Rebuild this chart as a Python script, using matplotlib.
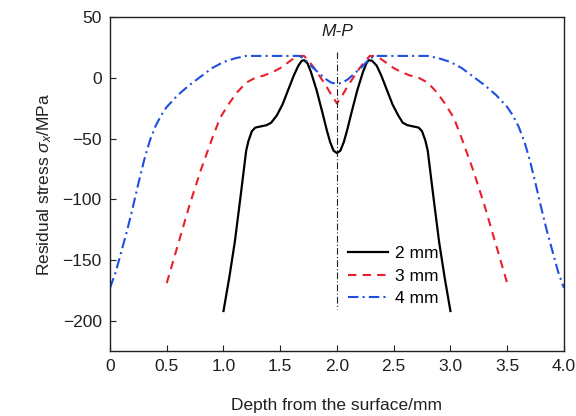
import matplotlib
matplotlib.use("Agg")
import matplotlib.pyplot as plt

plt.rcParams['font.family'] = ['Liberation Sans', 'DejaVu Sans']
plt.rcParams['mathtext.fontset'] = 'custom'
plt.rcParams['mathtext.rm'] = 'Liberation Sans'
plt.rcParams['mathtext.it'] = 'Liberation Sans:italic'

# 2 mm
x2 = [1.00, 1.05, 1.10, 1.15, 1.20, 1.22, 1.25, 1.28, 1.33, 1.38, 1.42, 1.47,
      1.52, 1.57, 1.62, 1.66, 1.69, 1.71, 1.74, 1.77, 1.82, 1.87, 1.91,
      1.94, 1.97, 2.00,
      2.03, 2.06, 2.09, 2.13, 2.18, 2.23, 2.26, 2.28, 2.31, 2.35, 2.39,
      2.44, 2.49, 2.54, 2.58, 2.62, 2.67, 2.72, 2.75, 2.78, 2.80, 2.85,
      2.90, 2.95, 3.00]
y2 = [-192, -165, -135, -98, -60, -52, -44, -41, -40, -39, -37, -31,
      -22, -10, 2, 10, 14, 14.5, 12, 5, -10, -28, -43,
      -53, -60, -62,
      -60, -53, -43, -28, -10, 5, 12, 14.5, 14, 10, 2,
      -10, -22, -31, -37, -39, -40, -41, -44, -52, -60, -98,
      -135, -165, -192]

# 3 mm
x3 = [0.50, 0.60, 0.70, 0.80, 0.90, 0.97, 1.05, 1.12, 1.20, 1.28, 1.36, 1.44,
      1.50, 1.56, 1.62, 1.67, 1.71, 1.75, 1.80, 1.85, 1.90, 1.95, 2.00,
      2.05, 2.10, 2.15, 2.20, 2.25, 2.29, 2.33, 2.38, 2.44, 2.50, 2.56,
      2.64, 2.72, 2.80, 2.88, 2.95, 3.03, 3.10, 3.20, 3.30, 3.40, 3.50]
y3 = [-169, -137, -105, -76, -50, -33, -21, -12, -4, 0, 2, 5,
      8, 12, 16, 18, 18, 14, 8, 1, -6, -14, -21,
      -14, -6, 1, 8, 14, 18, 18, 16, 12, 8, 5,
      2, 0, -4, -12, -21, -33, -50, -76, -105, -137, -169]

# 4 mm
x4 = [0.00, 0.05, 0.10, 0.15, 0.20, 0.25, 0.30, 0.35, 0.40, 0.45, 0.50, 0.60,
      0.70, 0.80, 0.90, 1.00, 1.10, 1.20, 1.40, 1.60, 1.67, 1.72, 1.78,
      1.84, 1.90, 1.95, 2.00,
      2.05, 2.10, 2.16, 2.22, 2.28, 2.33, 2.40, 2.60, 2.80, 2.90, 3.00,
      3.10, 3.20, 3.30, 3.40, 3.50, 3.55, 3.60, 3.65, 3.70, 3.75, 3.80,
      3.85, 3.90, 3.95, 4.00]
y4 = [-173, -160, -143, -126, -107, -87, -68, -52, -40, -31, -24, -14,
      -6, 1, 8, 13, 16, 18, 18, 18, 18, 15, 9,
      4, -1, -4, -5,
      -4, -1, 4, 9, 15, 18, 18, 18, 18, 16, 13,
      8, 1, -6, -14, -24, -31, -40, -52, -68, -87, -107,
      -126, -143, -160, -173]

labels = ['2 mm', '3 mm', '4 mm']
ink = '#231f20'
fs = 12.5

fig = plt.figure(figsize=(5.76, 4.16), dpi=100)
ax = fig.add_axes([0.191, 0.156, 0.788, 0.803])

ax.plot(x2, y2, color='black', lw=1.6, ls='-', label=labels[0])
ax.plot(x3, y3, color='#e8202a', lw=1.5, ls=(0, (4, 3)), label=labels[1])
ax.plot(x4, y4, color='#1f4fe0', lw=1.5, ls=(0, (5, 2, 1, 2)), label=labels[2])

# M-P centre line
ax.plot([2.0, 2.0], [21.5, -190], color=ink, lw=0.8, ls=(0, (6, 2, 1, 2)))
ax.text(2.0, 38, 'M-P', ha='center', va='center', fontsize=fs,
        style='italic', color=ink)

ax.set_xlim(0, 4.0)
ax.set_ylim(-225, 50)
ax.set_xticks([0, 0.5, 1.0, 1.5, 2.0, 2.5, 3.0, 3.5, 4.0])
ax.set_xticklabels(['0', '0.5', '1.0', '1.5', '2.0', '2.5', '3.0', '3.5', '4.0'])
ax.set_yticks([50, 0, -50, -100, -150, -200])
ax.set_yticklabels(['50', '0', '\u221250', '\u2212100', '\u2212150', '\u2212200'])
ax.tick_params(direction='in', length=4, width=0.8, colors=ink,
               labelsize=fs, pad=6)
for s in ax.spines.values():
    s.set_color(ink)
    s.set_linewidth(1.0)

ax.set_xlabel('Depth from the surface/mm', fontsize=fs, color=ink, labelpad=17)
ax.set_ylabel(r'Residual stress $\sigma_x$/MPa', fontsize=fs, color=ink, labelpad=6)

ax.legend(loc='upper left', bbox_to_anchor=(0.497, 0.35), frameon=False,
          fontsize=fs, handlelength=2.3, handletextpad=0.45, labelspacing=0.42,
          borderpad=0.2)

fig.savefig('out.png', dpi=100)
